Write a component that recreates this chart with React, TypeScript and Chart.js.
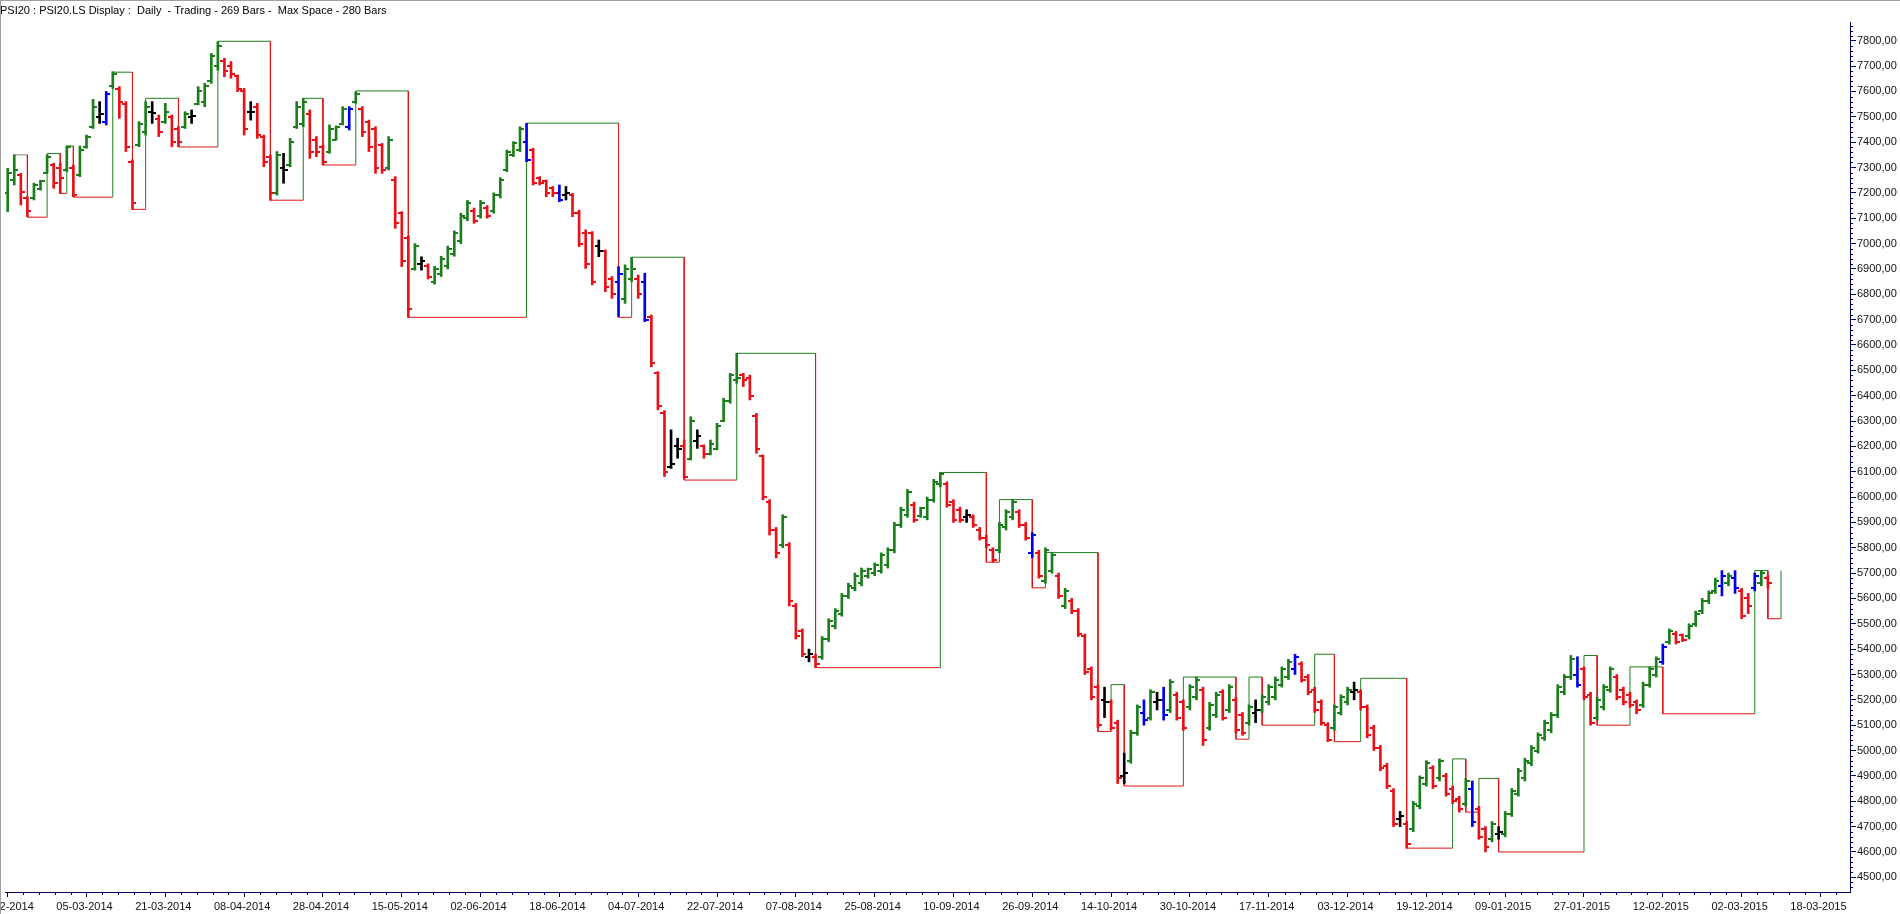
import React, { useEffect, useRef } from 'react';
import { Chart, registerables } from 'chart.js';

Chart.register(...registerables);

const TITLE = 'PSI20 : PSI20.LS Display :  Daily  - Trading - 269 Bars -  Max Space - 280 Bars';

const xTickLabels = [
  '17-02-2014', '05-03-2014', '21-03-2014', '08-04-2014', '28-04-2014', '15-05-2014',
  '02-06-2014', '18-06-2014', '04-07-2014', '22-07-2014', '07-08-2014', '25-08-2014',
  '10-09-2014', '26-09-2014', '14-10-2014', '30-10-2014', '17-11-2014', '03-12-2014',
  '19-12-2014', '09-01-2015', '27-01-2015', '12-02-2015', '02-03-2015', '18-03-2015',
];
const barsPerLabel = 12;

const yTickValues = [
  4500, 4600, 4700, 4800, 4900, 5000, 5100, 5200, 5300, 5400, 5500, 5600, 5700, 5800, 5900,
  6000, 6100, 6200, 6300, 6400, 6500, 6600, 6700, 6800, 6900, 7000, 7100, 7200, 7300, 7400,
  7500, 7600, 7700, 7800,
];

const highs = [
  7297, 7350, 7277, 7185, 7238, 7250, 7350, 7317, 7317, 7385, 7310, 7385, 7428, 7569, 7560, 7600, 7678, 7619, 7560, 7330,
  7481, 7560, 7560, 7507, 7553, 7507, 7461, 7520, 7527, 7619, 7632, 7750, 7796, 7731, 7718, 7665, 7612, 7560, 7553, 7428,
  7349, 7363, 7356, 7415, 7560, 7573, 7527, 7422, 7389, 7468, 7464, 7540, 7540, 7599, 7540, 7487, 7461, 7395, 7422, 7264,
  7126, 7030, 7000, 6948, 6920, 6910, 6950, 6990, 7050, 7120, 7170, 7140, 7170, 7150, 7200, 7260, 7369, 7402, 7461, 7474,
  7376, 7264, 7251, 7225, 7231, 7225, 7198, 7132, 7054, 7047, 7014, 6975, 6870, 6909, 6916, 6946, 6876, 6883, 6718, 6495,
  6341, 6265, 6232, 6225, 6317, 6265, 6206, 6225, 6291, 6390, 6488, 6567, 6488, 6481, 6330, 6166, 5990, 5880, 5930, 5820,
  5580, 5480, 5400, 5380, 5450, 5520, 5560, 5620, 5660, 5700, 5720, 5720, 5740, 5780, 5800, 5900, 5960, 6030, 5980, 5960,
  6000, 6070, 6097, 6060, 5990, 5960, 5950, 5930, 5880, 5850, 5800, 5900, 5950, 5990, 5950, 5900, 5860, 5790, 5800, 5780,
  5700, 5640, 5600, 5560, 5460, 5330, 5260, 5250, 5200, 5120, 4990, 5080, 5180, 5200, 5240, 5230, 5250, 5280, 5230, 5200,
  5260, 5290, 5250, 5190, 5230, 5240, 5260, 5210, 5150, 5180, 5200, 5220, 5260, 5290, 5330, 5360, 5380, 5350, 5300, 5250,
  5200, 5110, 5180, 5220, 5250, 5270, 5240, 5180, 5100, 5020, 4950, 4850, 4760, 4720, 4800, 4900, 4960, 4940, 4967, 4910,
  4860, 4820, 4890, 4880, 4780, 4700, 4720, 4700, 4760, 4850, 4930, 4970, 5020, 5070, 5120, 5150, 5260, 5300, 5375, 5370,
  5330, 5230, 5210, 5260, 5330, 5300, 5250, 5230, 5200, 5270, 5330, 5370, 5420, 5480, 5470, 5460, 5500, 5550, 5600, 5630,
  5680, 5710, 5700, 5710, 5640, 5620, 5700, 5710, 5690,
];
const lows = [
  7126, 7231, 7152, 7106, 7172, 7211, 7277, 7218, 7198, 7284, 7185, 7264, 7376, 7454, 7474, 7468, 7612, 7494, 7363, 7135,
  7382, 7428, 7474, 7422, 7474, 7382, 7382, 7454, 7474, 7547, 7540, 7632, 7684, 7658, 7652, 7599, 7428, 7487, 7415, 7303,
  7171, 7191, 7238, 7303, 7454, 7461, 7336, 7343, 7310, 7356, 7408, 7468, 7448, 7553, 7422, 7363, 7277, 7277, 7290, 7060,
  6909, 6709, 6895, 6895, 6860, 6840, 6870, 6900, 6950, 7000, 7090, 7080, 7100, 7100, 7120, 7180, 7284, 7343, 7363, 7323,
  7231, 7231, 7185, 7185, 7165, 7172, 7106, 6988, 6902, 6837, 6948, 6810, 6784, 6712, 6764, 6850, 6784, 6692, 6514, 6344,
  6081, 6113, 6153, 6074, 6146, 6192, 6153, 6166, 6186, 6297, 6370, 6449, 6436, 6383, 6173, 5989, 5850, 5760, 5800, 5570,
  5440, 5370, 5350, 5327, 5360, 5430, 5480, 5530, 5600, 5630, 5650, 5680, 5690, 5700, 5720, 5780, 5880, 5920, 5900, 5920,
  5910, 5980, 6040, 5960, 5900, 5900, 5900, 5880, 5830, 5800, 5743, 5780, 5870, 5910, 5880, 5830, 5760, 5680, 5660, 5700,
  5600, 5560, 5540, 5450, 5300, 5200, 5090, 5130, 5080, 4870, 4870, 4950, 5060, 5100, 5120, 5160, 5120, 5150, 5120, 5080,
  5160, 5200, 5020, 5080, 5130, 5120, 5150, 5070, 5060, 5100, 5110, 5150, 5180, 5200, 5250, 5280, 5300, 5270, 5220, 5150,
  5100, 5035, 5080, 5140, 5180, 5200, 5160, 5050, 5000, 4920, 4850, 4700, 4700, 4615, 4680, 4770, 4860, 4850, 4880, 4820,
  4790, 4757, 4780, 4700, 4650, 4600, 4640, 4650, 4660, 4740, 4820, 4880, 4940, 4990, 5040, 5070, 5130, 5220, 5280, 5250,
  5200, 5100, 5120, 5160, 5230, 5200, 5180, 5170, 5145, 5170, 5250, 5290, 5340, 5420, 5420, 5430, 5440, 5490, 5540, 5580,
  5620, 5610, 5650, 5620, 5520, 5540, 5630, 5650, 5640,
];
const opens = [
  7200, 7250, 7270, 7180, 7180, 7215, 7280, 7310, 7300, 7290, 7300, 7270, 7380, 7460, 7500, 7480, 7620, 7610, 7550, 7320,
  7390, 7440, 7520, 7490, 7480, 7500, 7450, 7460, 7500, 7550, 7560, 7640, 7700, 7720, 7700, 7660, 7600, 7520, 7540, 7420,
  7340, 7200, 7300, 7310, 7460, 7470, 7510, 7410, 7380, 7360, 7410, 7470, 7460, 7560, 7530, 7480, 7450, 7390, 7300, 7250,
  7120, 7020, 6900, 6920, 6910, 6850, 6880, 6910, 6960, 7010, 7100, 7130, 7110, 7140, 7130, 7190, 7290, 7350, 7370, 7400,
  7370, 7260, 7245, 7220, 7200, 7190, 7190, 7120, 7040, 7040, 6990, 6970, 6860, 6850, 6780, 6860, 6860, 6850, 6710, 6490,
  6330, 6120, 6200, 6200, 6150, 6220, 6200, 6170, 6190, 6300, 6380, 6460, 6480, 6470, 6320, 6160, 5980, 5870, 5810, 5810,
  5570, 5470, 5370, 5370, 5370, 5440, 5490, 5540, 5610, 5640, 5660, 5690, 5700, 5710, 5730, 5790, 5890, 5930, 5970, 5925,
  5920, 5990, 6050, 6050, 5980, 5950, 5920, 5920, 5870, 5840, 5790, 5790, 5880, 5920, 5940, 5890, 5780, 5780, 5670, 5710,
  5690, 5570, 5590, 5550, 5450, 5320, 5250, 5200, 5190, 5110, 4900, 4960, 5070, 5150, 5130, 5190, 5200, 5160, 5220, 5190,
  5170, 5210, 5240, 5090, 5140, 5230, 5160, 5200, 5140, 5110, 5150, 5160, 5190, 5210, 5260, 5290, 5320, 5340, 5290, 5240,
  5190, 5100, 5090, 5150, 5190, 5230, 5230, 5170, 5090, 5010, 4940, 4840, 4730, 4710, 4690, 4780, 4870, 4930, 4890, 4900,
  4850, 4810, 4790, 4850, 4770, 4690, 4650, 4670, 4670, 4750, 4830, 4890, 4950, 5000, 5050, 5080, 5140, 5230, 5290, 5300,
  5320, 5220, 5130, 5170, 5240, 5290, 5240, 5220, 5190, 5180, 5260, 5300, 5350, 5430, 5460, 5455, 5450, 5500, 5550, 5590,
  5630, 5650, 5660, 5680, 5630, 5600, 5640, 5660, 5680,
];
const closes = [
  7280, 7290, 7205, 7130, 7230, 7245, 7340, 7240, 7260, 7380, 7190, 7370, 7420, 7540, 7510, 7590, 7670, 7560, 7380, 7160,
  7470, 7540, 7515, 7440, 7520, 7400, 7400, 7510, 7505, 7600, 7620, 7740, 7780, 7680, 7670, 7610, 7450, 7520, 7430, 7320,
  7200, 7350, 7290, 7400, 7540, 7560, 7360, 7360, 7320, 7450, 7460, 7530, 7530, 7590, 7440, 7380, 7300, 7290, 7410, 7080,
  6930, 6740, 6990, 6930, 6870, 6900, 6940, 6980, 7040, 7110, 7160, 7090, 7160, 7110, 7190, 7250, 7360, 7395, 7450, 7330,
  7240, 7240, 7200, 7200, 7170, 7200, 7120, 7000, 6920, 6850, 6970, 6830, 6800, 6880, 6900, 6900, 6800, 6700, 6530, 6360,
  6100, 6130, 6190, 6080, 6300, 6240, 6170, 6210, 6280, 6380, 6480, 6470, 6460, 6400, 6190, 6000, 5870, 5780, 5920, 5590,
  5450, 5380, 5380, 5340, 5440, 5510, 5550, 5610, 5650, 5690, 5710, 5715, 5730, 5770, 5790, 5890, 5950, 6020, 5910, 5955,
  5990, 6060, 6090, 5970, 5910, 5910, 5930, 5890, 5840, 5810, 5750, 5890, 5940, 5980, 5890, 5840, 5850, 5690, 5790, 5770,
  5610, 5630, 5550, 5460, 5310, 5210, 5100, 5190, 5090, 4890, 4910, 5070, 5170, 5120, 5230, 5200, 5140, 5270, 5130, 5090,
  5250, 5280, 5040, 5180, 5220, 5130, 5250, 5080, 5070, 5170, 5160, 5210, 5250, 5280, 5320, 5350, 5370, 5280, 5230, 5160,
  5110, 5040, 5170, 5210, 5240, 5240, 5170, 5060, 5010, 4930, 4860, 4710, 4740, 4630, 4790, 4890, 4950, 4860, 4960, 4830,
  4800, 4770, 4880, 4720, 4660, 4620, 4710, 4680, 4750, 4840, 4920, 4960, 5010, 5060, 5110, 5140, 5250, 5290, 5360, 5260,
  5210, 5110, 5200, 5250, 5320, 5210, 5190, 5180, 5160, 5260, 5320, 5360, 5410, 5470, 5430, 5435, 5490, 5540, 5590, 5620,
  5670, 5690, 5690, 5640, 5530, 5570, 5690, 5700, 5660,
];
// g = up (green), r = down (red), k = black, b = blue
const barKinds = [
  'g','g','r','r','g','g','g','r','r','g', 'r','g','g','g','k','b','g','r','r','r',
  'g','g','k','r','g','r','r','g','k','g', 'g','g','g','r','r','r','r','k','r','r',
  'r','g','k','g','g','g','r','r','r','g', 'g','g','b','g','r','r','r','r','g','r',
  'r','r','g','k','r','g','g','g','g','g', 'g','r','g','r','g','g','g','g','g','b',
  'r','r','r','r','b','k','r','r','r','r', 'k','r','r','b','g','g','r','b','r','r',
  'r','k','k','r','g','k','r','g','g','g', 'g','g','r','r','r','r','r','r','g','r',
  'r','r','k','r','g','g','g','g','g','g', 'g','g','g','g','g','g','g','g','r','g',
  'g','g','g','r','r','r','k','r','r','r', 'r','g','g','g','r','r','b','r','g','g',
  'r','g','r','r','r','r','r','k','r','r', 'k','g','g','b','g','k','b','g','r','r',
  'g','g','r','g','g','r','g','r','r','g', 'k','g','g','g','g','g','b','r','r','r',
  'r','r','g','g','g','k','r','r','r','r', 'r','r','k','r','g','g','g','r','g','r',
  'r','r','g','b','r','r','g','k','g','g', 'g','g','g','g','g','g','g','g','g','b',
  'r','r','g','g','g','r','r','r','r','g', 'g','g','b','g','r','r','g','g','g','g',
  'g','b','g','b','r','r','b','g','r',
];

// swing (box) line: the level changes at these bars
const swingBars = [
  1, 3, 6, 8, 9, 10, 16, 19, 21, 26, 32, 40, 45, 48, 53, 61, 79, 93, 95, 103,
  111, 123, 142, 149, 151, 156, 158, 166, 168, 170, 179, 187, 189, 191, 199, 202, 206, 213, 220, 222,
  224, 227, 240, 242, 247, 252, 266, 268, 270,
];
const swingLevels = [
  7350, 7104, 7355, 7198, 7385, 7183, 7676, 7135, 7573, 7381, 7798, 7171, 7573, 7310, 7602, 6709, 7475, 6709, 6946, 6067,
  6567, 5327, 6097, 5743, 5990, 5642, 5781, 5075, 5260, 4860, 5290, 5045, 5290, 5100, 5380, 5035, 5285, 4615, 4967, 4757,
  4890, 4600, 5375, 5100, 5330, 5145, 5710, 5520, 5710,
];

const COL: Record<string, string> = { g: '#1b7d1b', r: '#ea1018', k: '#000000', b: '#0000e8' };
const LINE_UP = '#1f7f1f';
const LINE_DN = '#e01414';
const LINE_FIRST = '#9a8080';
const AXIS = '#000060';

export default function App() {
  const ref = useRef<HTMLCanvasElement | null>(null);

  useEffect(() => {
    const canvas = ref.current;
    if (!canvas) return;

    const mkTick = (color: string, left: boolean) => {
      const c = document.createElement('canvas');
      c.width = 8;
      c.height = 2;
      const g = c.getContext('2d')!;
      g.fillStyle = color;
      g.fillRect(left ? 0 : 4, 0, 4, 2);
      return c;
    };
    const openImg: Record<string, HTMLCanvasElement> = {};
    const closeImg: Record<string, HTMLCanvasElement> = {};
    Object.keys(COL).forEach((k) => {
      openImg[k] = mkTick(COL[k], true);
      closeImg[k] = mkTick(COL[k], false);
    });

    // swing line corners
    const pathPts: { x: number; y: number }[] = [{ x: swingBars[0], y: swingLevels[0] }];
    const segCol: string[] = [];
    for (let k = 1; k < swingBars.length; k++) {
      const prev = swingLevels[k - 1];
      const horizCol = k === 1 ? LINE_FIRST : prev > swingLevels[k - 2] ? LINE_UP : LINE_DN;
      pathPts.push({ x: swingBars[k], y: prev });
      segCol.push(horizCol);
      pathPts.push({ x: swingBars[k], y: swingLevels[k] });
      segCol.push(swingLevels[k] > prev ? LINE_UP : LINE_DN);
    }

    const extras = {
      id: 'extras',
      afterDraw(chart: any) {
        const { ctx, chartArea, scales } = chart;
        const xs = scales.x;
        const ys = scales.y;
        ctx.save();
        ctx.strokeStyle = AXIS;
        ctx.lineWidth = 1;
        ctx.beginPath();
        for (let v = 4460; v <= 7860; v += 20) {
          if (v % 100 === 0) continue;
          const py = Math.round(ys.getPixelForValue(v)) + 0.5;
          if (py < chartArea.top || py > chartArea.bottom) continue;
          ctx.moveTo(chartArea.right, py);
          ctx.lineTo(chartArea.right + 3, py);
        }
        for (let k = 0; k < xTickLabels.length * 5 + 5; k++) {
          if (k % 5 === 0) continue;
          const px = Math.round(xs.getPixelForValue((k * barsPerLabel) / 5)) + 0.5;
          if (px < chartArea.left || px > chartArea.right) continue;
          ctx.moveTo(px, chartArea.bottom);
          ctx.lineTo(px, chartArea.bottom + 3);
        }
        ctx.stroke();
        ctx.strokeStyle = '#a0a0a0';
        ctx.beginPath();
        ctx.moveTo(0, 0.5);
        ctx.lineTo(chart.width, 0.5);
        ctx.moveTo(0.5, 0);
        ctx.lineTo(0.5, chart.height);
        ctx.stroke();
        ctx.restore();
      },
    };

    Chart.defaults.font.family = '"Liberation Sans", Arial, sans-serif';
    Chart.defaults.font.size = 11;
    Chart.defaults.color = '#111';

    const chart = new Chart(canvas, {
      type: 'scatter',
      data: {
        datasets: [
          {
            type: 'line',
            data: pathPts,
            borderWidth: 1,
            pointRadius: 0,
            fill: false,
            tension: 0,
            borderColor: LINE_UP,
            segment: { borderColor: (c: any) => segCol[c.p0DataIndex] },
            order: 3,
          } as any,
          {
            type: 'bar',
            data: highs.map((h, i) => ({ x: i, y: [lows[i], h] })),
            backgroundColor: barKinds.map((k) => COL[k]),
            barThickness: 2,
            borderWidth: 0,
            grouped: false,
            order: 2,
          } as any,
          {
            type: 'scatter',
            data: opens.map((o, i) => ({ x: i, y: o })),
            pointStyle: (c: any) => openImg[barKinds[c.dataIndex]] || openImg.g,
            pointRadius: 3,
            showLine: false,
            order: 1,
          } as any,
          {
            type: 'scatter',
            data: closes.map((o, i) => ({ x: i, y: o })),
            pointStyle: (c: any) => closeImg[barKinds[c.dataIndex]] || closeImg.g,
            pointRadius: 3,
            showLine: false,
            order: 0,
          } as any,
        ],
      },
      options: {
        animation: false,
        responsive: true,
        maintainAspectRatio: false,
        events: [],
        layout: { padding: 0 },
        plugins: {
          legend: { display: false },
          tooltip: { enabled: false },
          title: {
            display: true,
            text: TITLE,
            align: 'start',
            color: '#000',
            font: { size: 11, weight: 'normal' },
            padding: { top: 4, bottom: 4.8 },
          },
        },
        scales: {
          x: {
            type: 'linear',
            position: 'bottom',
            min: -0.41,
            max: 280.5,
            offset: false,
            grid: { display: true, drawOnChartArea: false, drawTicks: true, tickLength: 5, tickColor: AXIS, offset: false },
            border: { display: true, color: AXIS, width: 1 },
            ticks: {
              autoSkip: false,
              maxRotation: 0,
              minRotation: 0,
              padding: 3,
              labelOffset: -2,
              color: '#111',
              callback: (v: any) => xTickLabels[Math.round(Number(v) / barsPerLabel)] ?? '',
            },
            afterBuildTicks: (s: any) => {
              s.ticks = xTickLabels.map((_, k) => ({ value: k * barsPerLabel }));
            },
            afterFit: (s: any) => {
              s.height = 22;
              s.paddingLeft = 0;
              s.paddingRight = 0;
            },
          },
          y: {
            type: 'linear',
            position: 'right',
            min: 4442,
            max: 7874,
            grid: { display: true, drawOnChartArea: false, drawTicks: true, tickLength: 6, tickColor: AXIS },
            border: { display: true, color: AXIS, width: 1 },
            ticks: {
              padding: 1,
              color: '#111',
              callback: (v: any) => Number(v).toFixed(2).replace('.', ','),
            },
            afterBuildTicks: (s: any) => {
              s.ticks = yTickValues.map((v) => ({ value: v }));
            },
            afterFit: (s: any) => {
              s.width = 50;
              s.paddingTop = 0;
              s.paddingBottom = 0;
            },
          },
        },
      },
      plugins: [extras],
    } as any);

    return () => chart.destroy();
  }, []);

  return (
    <div style={{ position: 'fixed', left: 0, top: 0, width: 1900, height: 914, background: '#fff' }}>
      <canvas ref={ref} />
    </div>
  );
}
